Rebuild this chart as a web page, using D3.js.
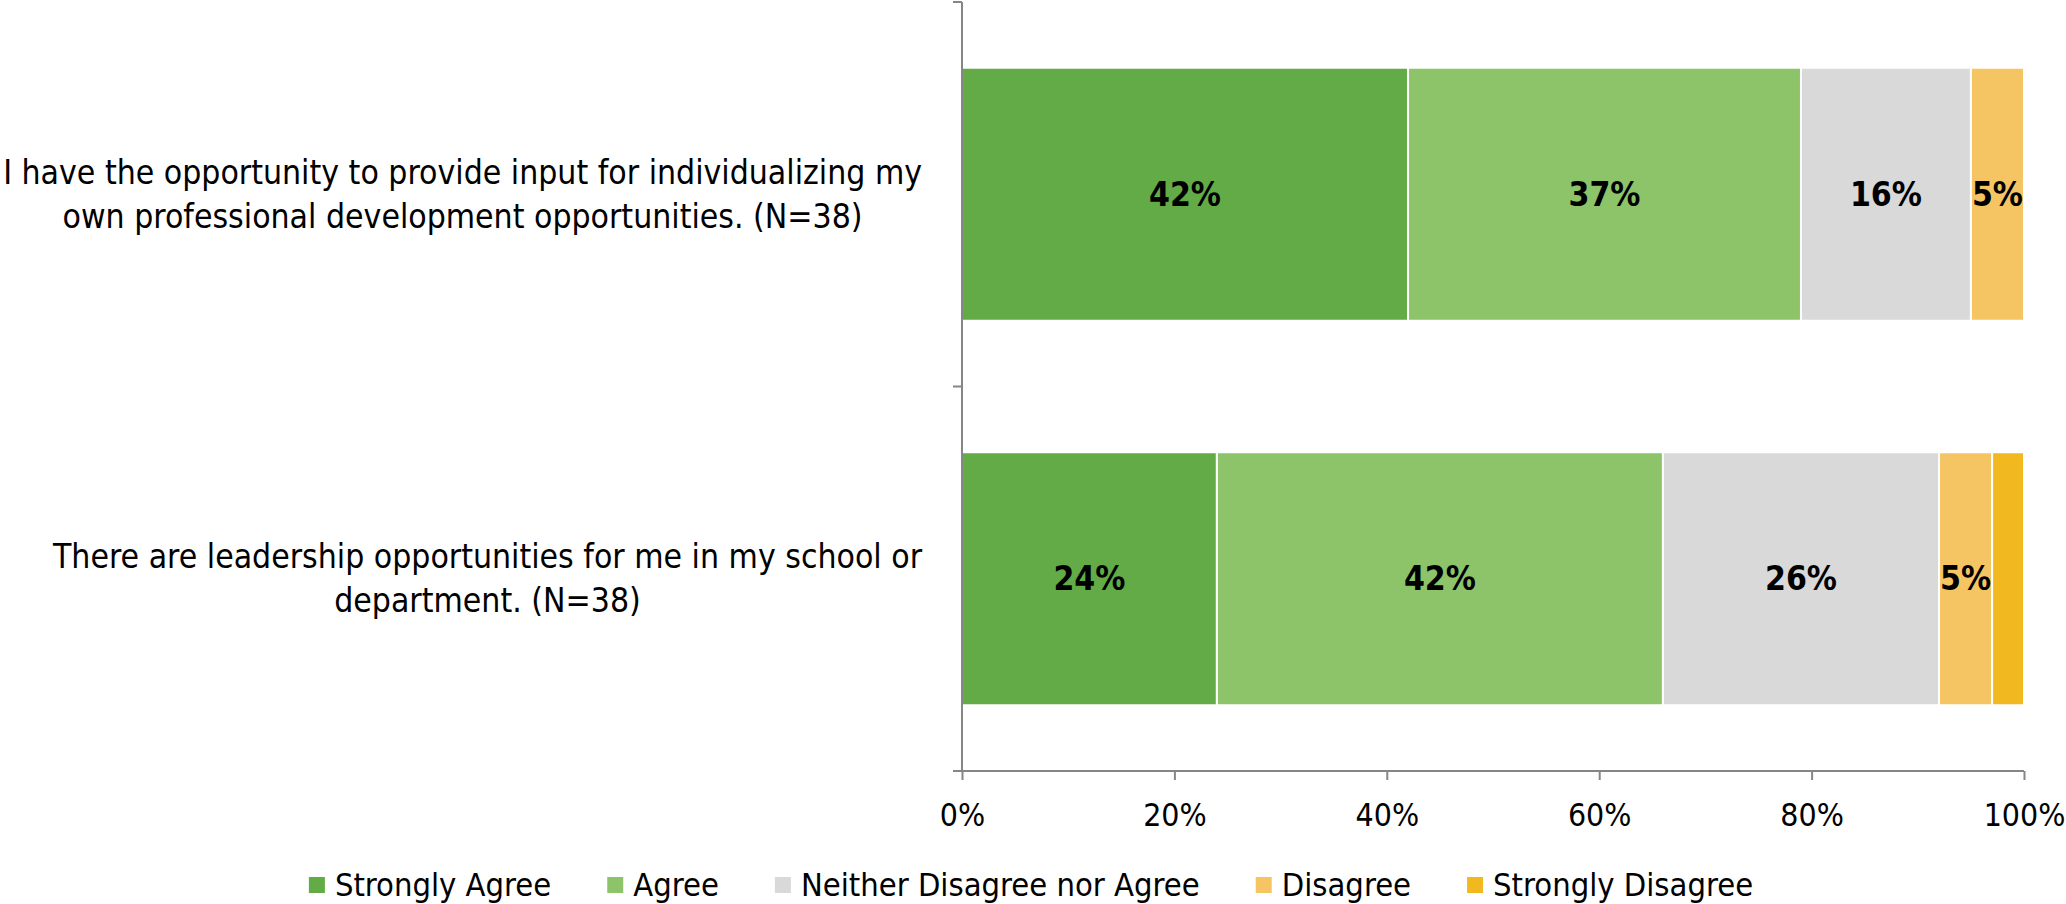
<!DOCTYPE html>
<html>
<head>
<meta charset="utf-8">
<script src="https://cdn.jsdelivr.net/npm/d3@7"></script>
<style>
  html, body { margin: 0; padding: 0; background: #fff; }
  svg { display: block; }
  text { font-family: "Liberation Sans Narrow", "DejaVu Sans Condensed", "Open Sans", sans-serif; fill: #000; }
</style>
</head>
<body>
<svg id="chart" width="2066" height="904"></svg>
<script>
const categories = [
  "I have the opportunity to provide input for individualizing my own professional development opportunities. (N=38)",
  "There are leadership opportunities for me in my school or department. (N=38)"
];
const categoryLines = [
  ["I have the opportunity to provide input for individualizing my", "own professional development opportunities. (N=38)"],
  ["There are leadership opportunities for me in my school or", "department. (N=38)"]
];
const seriesNames = ["Strongly Agree", "Agree", "Neither Disagree nor Agree", "Disagree", "Strongly Disagree"];
const seriesColors = ["#62AB46", "#8DC46A", "#D9D9D9", "#F6C563", "#F2B81F"];
const stronglyAgree = [42, 24];
const agree = [37, 42];
const neither = [16, 26];
const disagree = [5, 5];
const stronglyDisagree = [0, 3];
const xTicks = [0, 20, 40, 60, 80, 100];
const xTickLabels = ["0%", "20%", "40%", "60%", "80%", "100%"];

const seriesValues = [stronglyAgree, agree, neither, disagree, stronglyDisagree];
const rows = categories.map((c, i) => {
  const r = { cat: c };
  seriesNames.forEach((s, j) => r[s] = seriesValues[j][i]);
  return r;
});
const stacked = d3.stack().keys(seriesNames)(rows);

const svg = d3.select("#chart");
const plotLeft = 962, plotRight = 2024, plotTop = 2, plotBottom = 771;

const x = d3.scaleLinear().domain([0, 100]).range([plotLeft, plotRight]);
const y = d3.scaleBand().domain(categories).range([plotTop, plotBottom]).paddingInner(0.342).paddingOuter(0.171);
const color = d3.scaleOrdinal().domain(seriesNames).range(seriesColors);

// Font fitting: measure widest category line and scale to target width
const probe = svg.append("text").attr("font-size", 36).text(categoryLines[0][0]);
const w36 = probe.node().getComputedTextLength();
probe.remove();
const fs = Math.max(20, Math.min(40, 36 * 919 / w36));

// Bars
const g = svg.append("g");
g.selectAll("g.series").data(stacked).join("g")
  .attr("fill", d => color(d.key))
  .selectAll("rect").data(d => d).join("rect")
  .attr("x", d => x(d[0]))
  .attr("y", d => y(d.data.cat))
  .attr("width", d => Math.max(0, x(d[1]) - x(d[0])))
  .attr("height", y.bandwidth())
  .attr("stroke", "#fff")
  .attr("stroke-width", 2);

// Data labels
stacked.forEach(s => {
  s.forEach(d => {
    const v = d[1] - d[0];
    if (v >= 5) {
      svg.append("text")
        .attr("x", (x(d[0]) + x(d[1])) / 2)
        .attr("y", y(d.data.cat) + y.bandwidth() / 2)
        .attr("dy", "0.35em")
        .attr("text-anchor", "middle")
        .attr("font-weight", "bold")
        .attr("font-size", fs)
        .text(v + "%");
    }
  });
});

// Axes
const axisColor = "#868686";
const xAxis = d3.axisBottom(x).tickValues(xTicks).tickFormat((d, i) => xTickLabels[i]).tickSizeInner(9).tickSizeOuter(0).tickPadding(23);
const xa = svg.append("g").attr("transform", `translate(0,${plotBottom})`).call(xAxis);
xa.select(".domain").attr("stroke", axisColor).attr("stroke-width", 2).attr("d", `M${plotLeft - 9},0H${plotRight}`);
xa.selectAll(".tick line").attr("stroke", axisColor).attr("stroke-width", 2);
xa.selectAll(".tick text").attr("font-size", fs * 0.95).attr("font-family", null).attr("fill", "#000");

const yEdges = [plotTop, (y(categories[0]) + y.bandwidth() + y(categories[1])) / 2, plotBottom];
svg.append("line").attr("x1", plotLeft).attr("x2", plotLeft).attr("y1", plotTop).attr("y2", plotBottom)
  .attr("stroke", axisColor).attr("stroke-width", 2);
svg.selectAll("line.ytick").data(yEdges.slice(0, 2)).join("line").attr("class", "ytick")
  .attr("x1", plotLeft - 9).attr("x2", plotLeft).attr("y1", d => d).attr("y2", d => d)
  .attr("stroke", axisColor).attr("stroke-width", 2);

// Category labels: block right-aligned, lines centred within block
const lineH = 44;
const labelRight = 922;
categories.forEach((c, i) => {
  const lines = categoryLines[i];
  const cy = y(c) + y.bandwidth() / 2;
  const grp = svg.append("g");
  const texts = lines.map((l, k) => grp.append("text")
    .attr("font-size", fs)
    .attr("text-anchor", "middle")
    .attr("y", cy + (k - (lines.length - 1) / 2) * lineH)
    .attr("dy", "0.35em")
    .text(l));
  const maxW = d3.max(texts, t => t.node().getComputedTextLength());
  texts.forEach(t => t.attr("x", labelRight - maxW / 2));
});

// Legend
const legendY = 885;
const sw = 16, swGap = 10, itemGap = 56;
const leg = svg.append("g");
let cx = 0;
seriesNames.forEach(name => {
  const it = leg.append("g");
  it.append("rect").attr("x", 0).attr("y", legendY - sw / 2).attr("width", sw).attr("height", sw).attr("fill", color(name));
  const t = it.append("text").attr("x", sw + swGap).attr("y", legendY).attr("dy", "0.35em").attr("font-size", fs * 0.97).text(name);
  const w = sw + swGap + t.node().getComputedTextLength();
  it.attr("transform", `translate(${cx},0)`);
  cx += w + itemGap;
});
const totalW = cx - itemGap;
leg.attr("transform", `translate(${1031 - totalW / 2},0)`);
</script>
</body>
</html>
